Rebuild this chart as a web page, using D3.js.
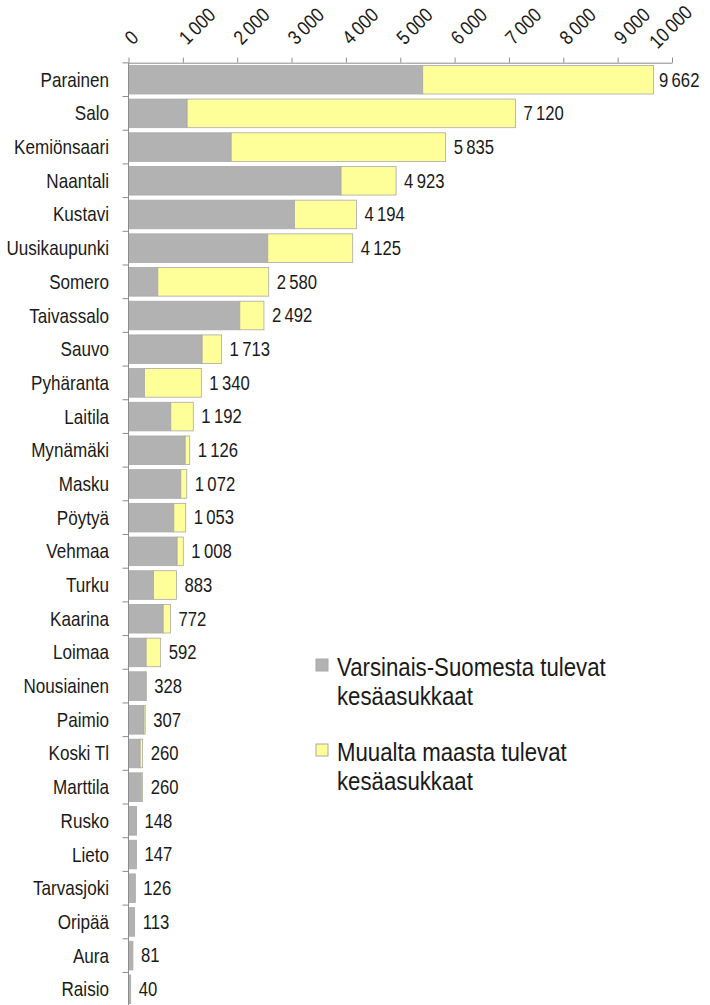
<!DOCTYPE html>
<html>
<head>
<meta charset="utf-8">
<script src="https://cdn.jsdelivr.net/npm/d3@7"></script>
<style>
  body { margin: 0; background: #fff; }
  text { font-family: "Liberation Sans", Arial, sans-serif; fill: #1a1a1a; }
  .os path, .os line { stroke: #8c8c8c; }
</style>
</head>
<body>
<div id="okvir"></div>
<script>
const kunnat = [
  "Parainen", "Salo", "Kemiönsaari", "Naantali", "Kustavi", "Uusikaupunki",
  "Somero", "Taivassalo", "Sauvo", "Pyhäranta", "Laitila", "Mynämäki",
  "Masku", "Pöytyä", "Vehmaa", "Turku", "Kaarina", "Loimaa", "Nousiainen",
  "Paimio", "Koski Tl", "Marttila", "Rusko", "Lieto", "Tarvasjoki",
  "Oripää", "Aura", "Raisio"
]
// Varsinais-Suomesta tulevat (arvioitu kuvasta)
const varsinaisSuomi = [
  5414, 1079, 1889, 3911, 3053, 2563,
  540, 2048, 1355, 295, 779, 1043,
  963, 834, 895, 460, 638, 325, 318,
  285, 215, 235, 148, 147, 126,
  113, 81, 40
]
// yhteensä (datalabelit)
const yhteensa = [
  9662, 7120, 5835, 4923, 4194, 4125,
  2580, 2492, 1713, 1340, 1192, 1126,
  1072, 1053, 1008, 883, 772, 592, 328,
  307, 260, 260, 148, 147, 126,
  113, 81, 40
]
const muualta = yhteensa.map((d, i) => d - varsinaisSuomi[i])
const seliteRivit = [["Varsinais-Suomesta tulevat", "kesäasukkaat"], ["Muualta maasta tulevat", "kesäasukkaat"]]
const xTicks = [0, 1000, 2000, 3000, 4000, 5000, 6000, 7000, 8000, 9000, 10000]

const dataset = kunnat.map((k, i) => ({ kunta: k, vs: varsinaisSuomi[i], muu: muualta[i], yht: yhteensa[i] }))

const dim = {
  sirina: 710,
  visina: 1005,
  margine: { top: 62.7, right: 38, left: 128.5 }
}
dim.grSirina = dim.sirina - dim.margine.left - dim.margine.right
dim.grVisina = 943.6

// kapea fontti: skaalataan vaakasuunnassa
const kapea = 0.855

const fi = d3.formatLocale({ decimal: ",", thousands: "\u2009", grouping: [3], currency: ["", " €"] })
const fmt = fi.format(",d")

const svg = d3.select("#okvir").append("svg")
  .attr("width", dim.sirina)
  .attr("height", dim.visina)

const g = svg.append("g")
  .attr("transform", `translate(${dim.margine.left},${dim.margine.top})`)

const x = d3.scaleLinear().domain([0, 10000]).range([0, dim.grSirina])
const y = d3.scaleBand().domain(kunnat).range([0, dim.grVisina]).paddingInner(0.151).paddingOuter(0.08)
const boje = d3.scaleOrdinal().domain(["vs", "muu"]).range(["#b2b2b2", "#ffff99"])

const stack = d3.stack().keys(["vs", "muu"])(dataset)

// palkit
g.append("g").selectAll("g")
  .data(stack)
  .join("g")
    .attr("fill", d => boje(d.key))
  .selectAll("rect")
  .data(d => d)
  .join("rect")
    .attr("x", d => x(d[0]))
    .attr("y", d => y(d.data.kunta))
    .attr("width", d => Math.max(0, x(d[1]) - x(d[0])))
    .attr("height", y.bandwidth())
    .attr("stroke", "#a8a8a8")
    .attr("stroke-width", 0.8)

// ylempi akseli
const xOs = g.append("g")
  .attr("class", "os")
  .call(d3.axisTop(x).tickValues(xTicks).tickSize(5).tickSizeOuter(0).tickFormat(fmt))
xOs.selectAll(".tick text")
  .attr("font-size", 20)
  .attr("text-anchor", "start")
  // viimeinen nimike siirretään vasemmalle ja alas ettei se leikkaudu
  .attr("transform", (d, i) => i === xTicks.length - 1
    ? `translate(-15,-13) rotate(-45) scale(${kapea},1)`
    : `translate(4,-17) rotate(-45) scale(${kapea},1)`)
  .attr("x", 0).attr("y", 0).attr("dy", 0)

// vasen akseli, väliviivat kaistojen rajoilla
const yOs = g.append("g").attr("class", "os")
yOs.append("line")
  .attr("x1", 0).attr("x2", 0)
  .attr("y1", 0).attr("y2", dim.grVisina + 10)
yOs.selectAll(".raja")
  .data(kunnat)
  .join("line")
    .attr("class", "raja")
    .attr("x1", -6).attr("x2", 0)
    .attr("y1", d => y(d) - y.step() * y.paddingInner() / 2)
    .attr("y2", d => y(d) - y.step() * y.paddingInner() / 2)
yOs.selectAll("text")
  .data(kunnat)
  .join("text")
    .attr("transform", d => `translate(-19.5,${y(d) + y.bandwidth() / 2}) scale(${kapea},1)`)
    .attr("dy", "0.35em")
    .attr("text-anchor", "end")
    .attr("font-size", 20)
    .text(d => d)

// arvot
g.append("g").selectAll("text")
  .data(dataset)
  .join("text")
    .attr("transform", d => `translate(${Math.min(x(d.yht) + 8, 530.5)},${y(d.kunta) + y.bandwidth() / 2}) scale(${kapea},1)`)
    .attr("dy", "0.35em")
    .attr("font-size", 19.5)
    .text(d => fmt(d.yht))

// selite
const selite = svg.append("g").attr("transform", "translate(316,659)")
const kohta = selite.selectAll("g")
  .data(["vs", "muu"])
  .join("g")
    .attr("transform", (d, i) => `translate(0,${i * 85})`)
kohta.append("rect")
  .attr("width", 12).attr("height", 12)
  .attr("fill", d => boje(d))
  .attr("stroke", "#a8a8a8")
kohta.append("text")
  .attr("transform", `translate(21,17) scale(${kapea},1)`)
  .attr("font-size", 26)
  .selectAll("tspan")
  .data((d, i) => seliteRivit[i])
  .join("tspan")
    .attr("x", 0)
    .attr("dy", (d, j) => j === 0 ? 0 : 29)
    .text(d => d)
</script>
</body>
</html>
